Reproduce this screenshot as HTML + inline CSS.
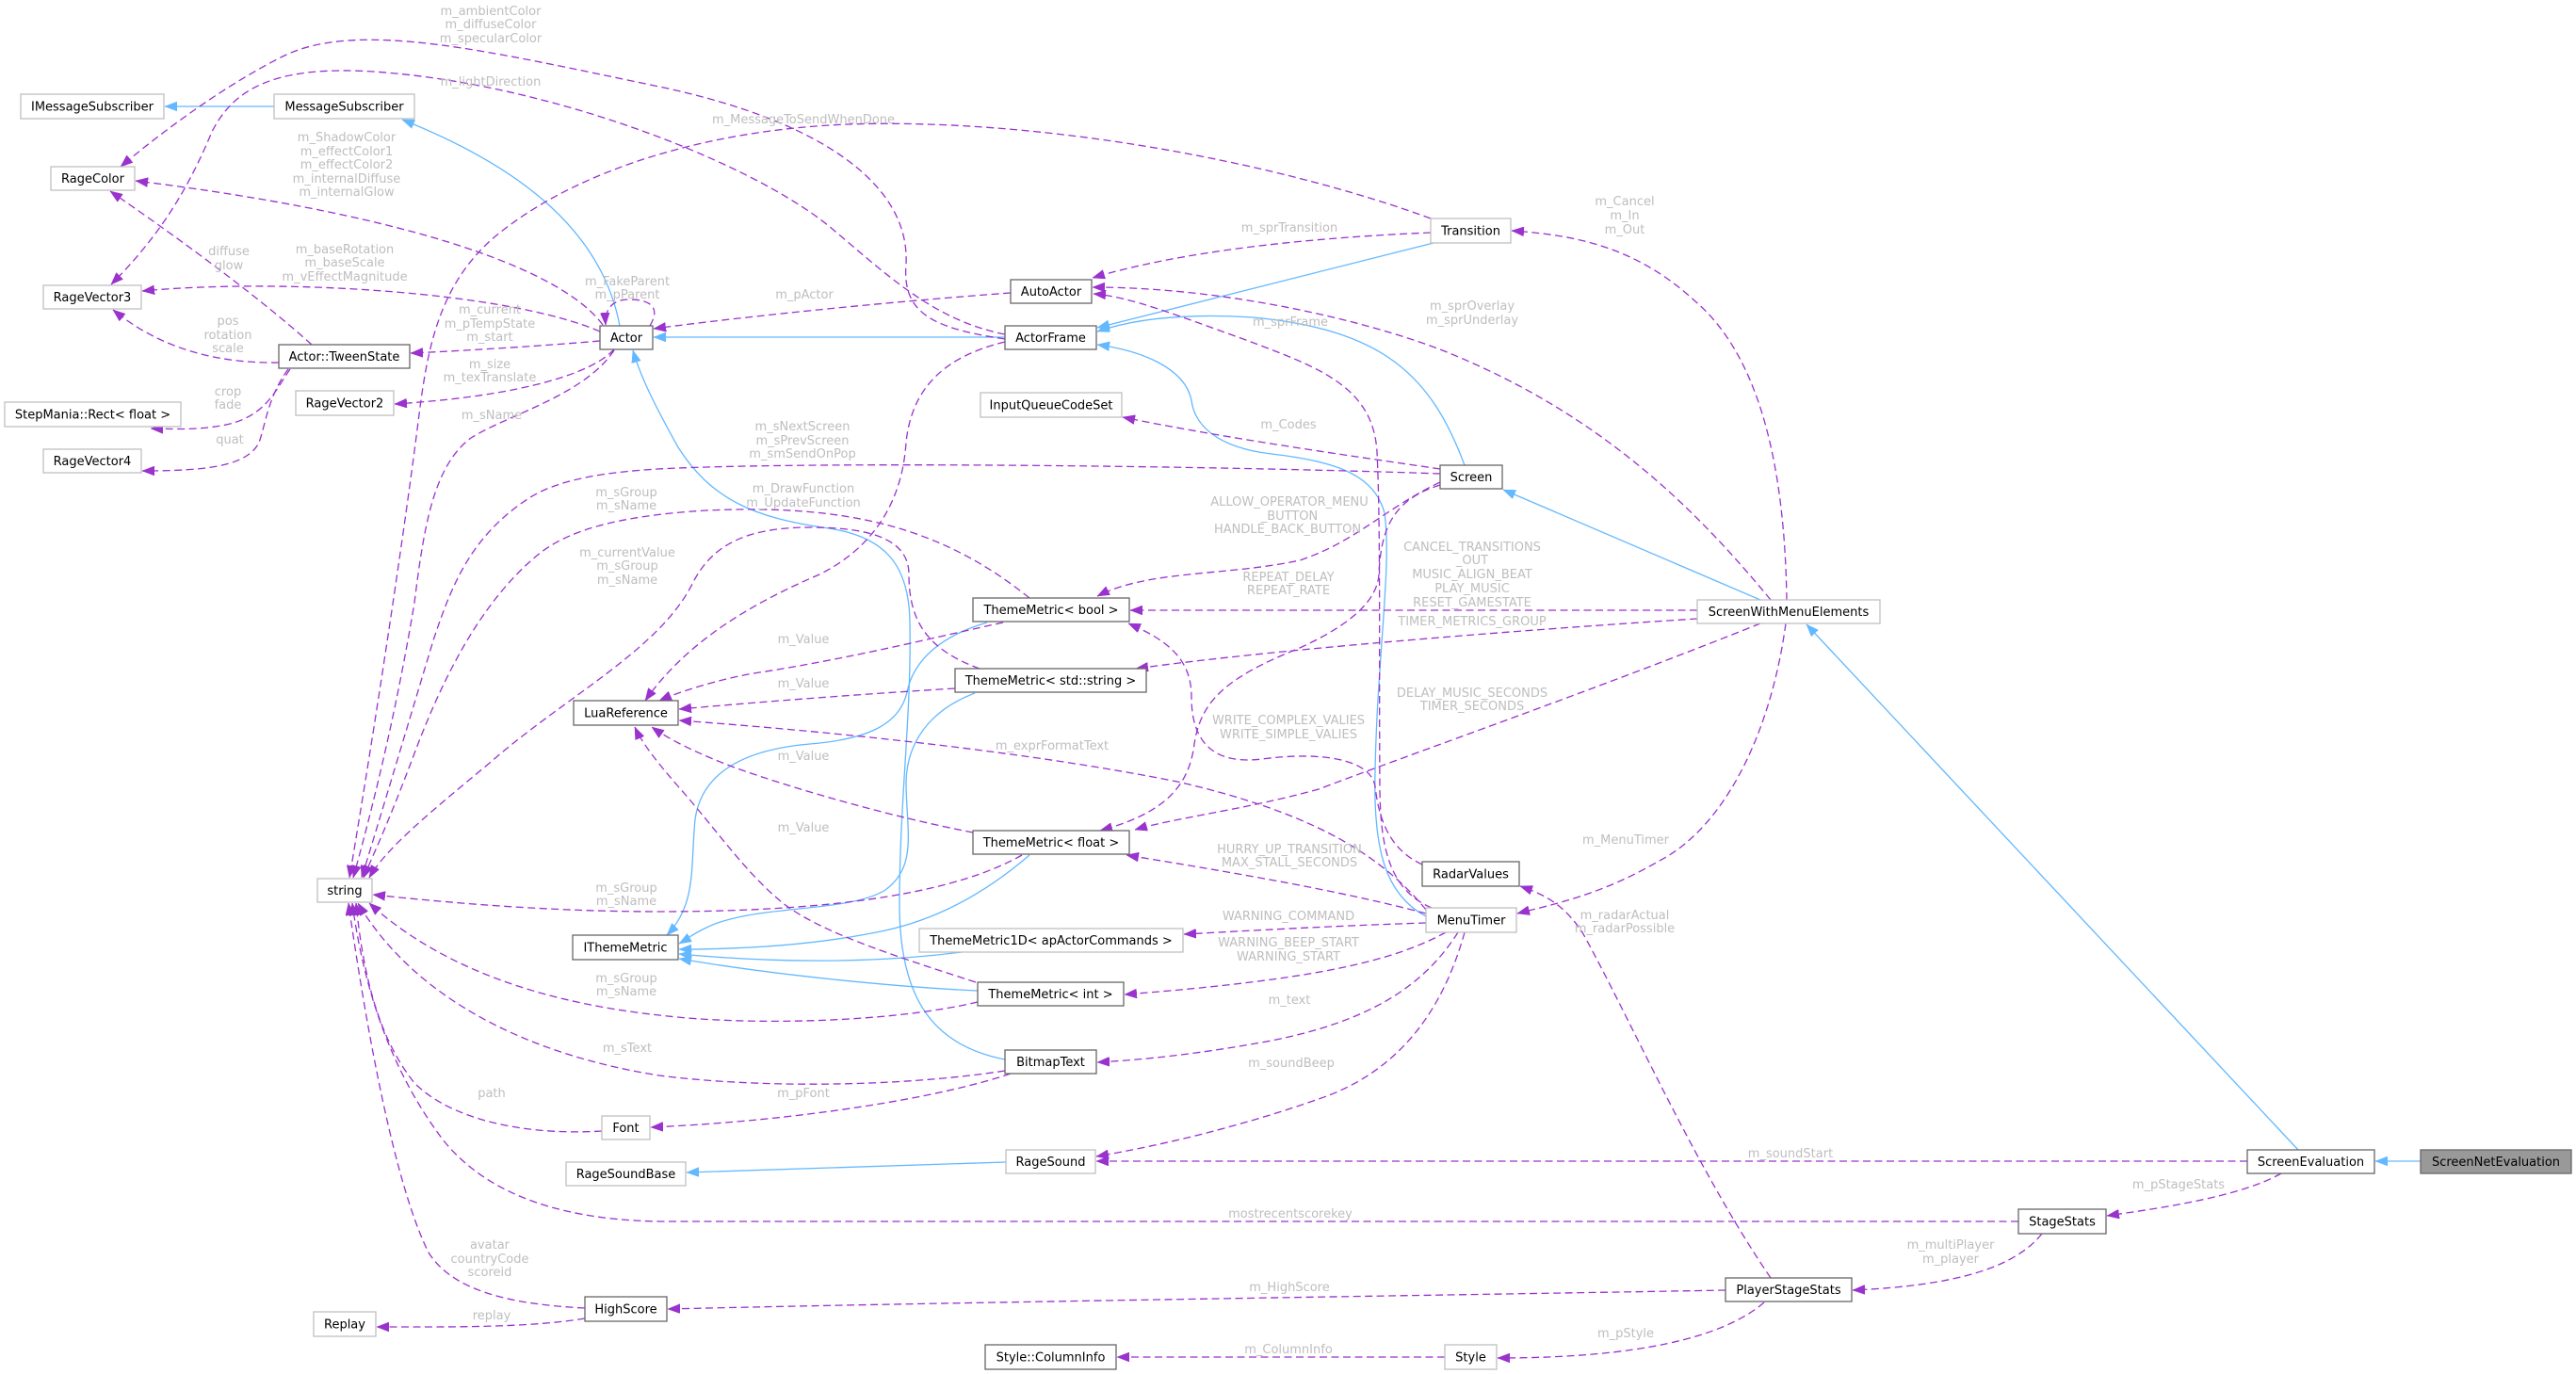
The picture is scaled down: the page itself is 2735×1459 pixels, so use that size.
<!DOCTYPE html>
<html><head><meta charset="utf-8"><style>
html,body{margin:0;padding:0;background:#fff;}
svg{display:block;}
.n{fill:#fff;stroke:#666;stroke-width:1.3;}
.l{fill:#fff;stroke:#bfbfbf;stroke-width:1.3;}
.nt{font-family:"DejaVu Sans","Liberation Sans",sans-serif;font-size:13px;fill:#000;text-anchor:middle;}
.et{font-family:"DejaVu Sans","Liberation Sans",sans-serif;font-size:13px;fill:#bebebe;text-anchor:middle;}
.b{fill:none;stroke:#63b8ff;stroke-width:1.3;marker-end:url(#ab);}
.p{fill:none;stroke:#9a32cd;stroke-width:1.3;stroke-dasharray:8,4.5;marker-end:url(#ap);}
</style></head><body>
<svg width="2735" height="1459" viewBox="0 0 2735 1459" xmlns="http://www.w3.org/2000/svg">
<defs>
<marker id="ap" viewBox="0 0 13 10" refX="13" refY="5" markerWidth="13" markerHeight="10" markerUnits="userSpaceOnUse" orient="auto"><path d="M0,0 L13,5 L0,10z" fill="#9a32cd" stroke="#9a32cd" stroke-width="0.5"/></marker>
<marker id="ab" viewBox="0 0 13 10" refX="13" refY="5" markerWidth="13" markerHeight="10" markerUnits="userSpaceOnUse" orient="auto"><path d="M0,0 L13,5 L0,10z" fill="#63b8ff" stroke="#63b8ff" stroke-width="0.5"/></marker>
</defs>
<rect width="2735" height="1459" fill="#fff"/>

<!-- blue inheritance edges -->
<path class="b" d="M291,113 L175,113"/>
<path class="b" d="M658,346 C640,250 560,180 427,127"/>
<path class="b" d="M1067,358 L694,358"/>
<path class="b" d="M1067,1125 C990,1110 955,1060 955,960 C955,850 968,760 966,660 C965,600 940,570 880,561 C800,550 755,530 720,475 C695,430 680,400 672,372"/>
<path class="b" d="M1522,258 L1165,348"/>
<path class="b" d="M1555,494 C1520,400 1470,350 1330,337 C1250,332 1200,340 1165,352"/>
<path class="b" d="M1514,973 C1470,950 1458,900 1460,820 C1462,700 1478,600 1470,545 C1460,505 1420,490 1350,482 C1290,475 1268,450 1265,425 C1258,390 1210,372 1165,366"/>
<path class="b" d="M1048,661 C1000,675 970,700 963,735 C955,770 920,785 860,790 C790,796 745,820 738,870 C733,920 740,960 708,993"/>
<path class="b" d="M1035,736 C985,755 963,790 962,830 C962,880 975,920 940,945 C900,970 800,960 750,985 C735,992 728,998 721,1002"/>
<path class="b" d="M1093,908 C1050,945 1000,975 940,988 C870,1003 790,1008 721,1008"/>
<path class="b" d="M1021,1011 C950,1020 850,1025 721,1013"/>
<path class="b" d="M1038,1052 C950,1048 820,1035 721,1018"/>
<path class="b" d="M1068,1234 L729,1245"/>
<path class="b" d="M1869,637 L1596,520"/>
<path class="b" d="M2440,1221 L1918,663"/>
<path class="b" d="M2570,1233 L2522,1233"/>

<!-- purple usage edges -->
<path class="p" d="M1067,360 C985,348 958,330 962,280 C966,200 880,130 700,92 C520,55 380,20 300,60 C230,95 160,150 128,177"/>
<path class="p" d="M1067,355 C990,340 940,290 880,240 C800,175 600,95 420,78 C300,66 250,90 225,140 C200,200 170,250 118,302"/>
<path class="p" d="M640,345 C600,290 450,230 144,192"/>
<path class="p" d="M637,352 C540,310 300,295 151,309"/>
<path class="p" d="M637,362 C580,367 500,372 436,375"/>
<path class="p" d="M652,371 C630,395 560,420 419,429"/>
<path class="p" d="M652,372 C620,420 540,440 500,465 C460,495 450,560 440,640 C420,760 395,860 375,932"/>
<path class="p" d="M690,346 C702,326 690,318 668,318 C650,318 642,328 643,345"/>
<path class="p" d="M331,366 C280,320 200,260 117,203"/>
<path class="p" d="M296,385 C230,386 170,370 120,329"/>
<path class="p" d="M308,392 C292,415 282,442 240,451 C215,456 195,456 160,455"/>
<path class="p" d="M306,392 C285,420 282,450 275,470 C262,495 220,500 151,500"/>
<path class="p" d="M1073,311 C950,320 800,335 694,349"/>
<path class="p" d="M1519,247 C1400,252 1260,265 1160,295"/>
<path class="p" d="M1519,232 C1350,170 1100,125 900,132 C750,138 620,180 540,240 C470,290 455,360 445,440 C430,560 400,760 371,932"/>
<path class="p" d="M1529,503 C1300,495 900,490 720,497 C640,500 590,510 560,530 C500,570 480,620 460,680 C430,780 400,880 384,932"/>
<path class="p" d="M1529,498 C1420,482 1300,465 1192,443"/>
<path class="p" d="M1529,512 C1470,540 1440,575 1380,595 C1300,612 1220,605 1165,633"/>
<path class="p" d="M1529,515 C1480,530 1466,560 1464,610 C1462,640 1430,665 1380,688 C1300,720 1275,745 1268,790 C1262,840 1230,865 1168,882"/>
<path class="p" d="M1510,918 C1470,900 1463,860 1460,835 C1455,805 1400,798 1340,806 C1290,812 1265,790 1265,740 C1265,700 1240,680 1198,662"/>
<path class="p" d="M1802,648 L1200,648"/>
<path class="p" d="M1802,657 C1600,670 1350,690 1206,710"/>
<path class="p" d="M1869,662 C1700,730 1500,800 1400,838 C1320,860 1250,868 1205,881"/>
<path class="p" d="M1896,662 C1880,780 1830,880 1760,915 C1700,950 1650,960 1611,970"/>
<path class="p" d="M1880,637 C1800,540 1700,440 1534,373 C1450,340 1300,305 1160,305"/>
<path class="p" d="M1897,637 C1895,500 1870,380 1800,320 C1740,265 1680,250 1605,245"/>
<path class="p" d="M1520,964 C1475,945 1466,900 1465,840 C1464,700 1466,560 1462,480 C1458,410 1400,390 1320,360 C1250,335 1200,315 1161,312"/>
<path class="p" d="M1514,966 C1460,900 1380,860 1250,830 C1100,800 900,778 721,765"/>
<path class="p" d="M1514,970 C1420,945 1300,925 1196,908"/>
<path class="p" d="M1514,980 C1420,983 1330,988 1257,992"/>
<path class="p" d="M1535,990 C1480,1020 1400,1040 1194,1056"/>
<path class="p" d="M1548,990 C1510,1050 1450,1085 1350,1105 C1280,1118 1220,1125 1165,1128"/>
<path class="p" d="M1555,990 C1530,1080 1480,1140 1400,1167 C1320,1195 1240,1215 1164,1228"/>
<path class="p" d="M1880,1357 C1800,1240 1730,1080 1680,990 C1660,960 1640,950 1614,941"/>
<path class="p" d="M2386,1233 L1164,1233"/>
<path class="p" d="M2422,1246 C2380,1270 2300,1282 2237,1291"/>
<path class="p" d="M2168,1310 C2140,1345 2080,1365 1967,1370"/>
<path class="p" d="M1832,1370 C1500,1376 1000,1383 709,1390"/>
<path class="p" d="M1873,1383 C1830,1420 1740,1442 1590,1442"/>
<path class="p" d="M1534,1441 L1186,1441"/>
<path class="p" d="M621,1400 C560,1410 480,1409 400,1409"/>
<path class="p" d="M621,1389 C540,1385 480,1370 455,1330 C420,1260 390,1100 370,959"/>
<path class="p" d="M1073,1140 C1000,1165 850,1190 691,1197"/>
<path class="p" d="M1067,1137 C950,1155 800,1155 700,1142 C560,1120 440,1060 380,959"/>
<path class="p" d="M639,1201 C560,1206 480,1190 440,1150 C400,1100 385,1030 378,959"/>
<path class="p" d="M2143,1297 L700,1297 C580,1295 510,1260 470,1210 C410,1130 385,1040 374,959"/>
<path class="p" d="M1038,1064 C950,1085 800,1090 700,1078 C580,1065 470,1030 392,959"/>
<path class="p" d="M1085,908 C1020,945 900,968 700,968 C580,968 470,958 396,950"/>
<path class="p" d="M1093,635 C1000,560 900,535 750,542 C650,548 600,565 570,590 C510,640 470,720 440,800 C410,880 395,910 386,932"/>
<path class="p" d="M1040,710 C985,690 965,660 965,610 C965,575 930,560 860,560 C790,560 755,580 735,620 C700,690 600,740 520,810 C460,860 410,900 392,932"/>
<path class="p" d="M1067,363 C1005,378 968,410 962,470 C958,530 930,580 870,610 C800,640 730,680 685,744"/>
<path class="p" d="M1065,661 C1000,675 900,700 800,715 C760,722 720,735 700,744"/>
<path class="p" d="M1014,731 C900,738 800,746 721,753"/>
<path class="p" d="M1033,884 C950,868 850,840 780,815 C740,800 710,785 692,772"/>
<path class="p" d="M1036,1043 C950,1015 870,990 830,958 C790,925 760,880 720,835 C700,812 682,790 674,772"/>

<!-- edge labels -->
<g class="et">
<text x="521" y="16">m_ambientColor</text><text x="521" y="30">m_diffuseColor</text><text x="521" y="45">m_specularColor</text>
<text x="521" y="91">m_lightDirection</text>
<text x="853" y="131">m_MessageToSendWhenDone</text>
<text x="368" y="150">m_ShadowColor</text><text x="368" y="165">m_effectColor1</text><text x="368" y="179">m_effectColor2</text><text x="368" y="194">m_internalDiffuse</text><text x="368" y="208">m_internalGlow</text>
<text x="1369" y="246">m_sprTransition</text>
<text x="1725" y="218">m_Cancel</text><text x="1725" y="233">m_In</text><text x="1725" y="248">m_Out</text>
<text x="243" y="271">diffuse</text><text x="243" y="286">glow</text>
<text x="366" y="269">m_baseRotation</text><text x="366" y="283">m_baseScale</text><text x="366" y="298">m_vEffectMagnitude</text>
<text x="666" y="303">m_FakeParent</text><text x="666" y="317">m_pParent</text>
<text x="854" y="317">m_pActor</text>
<text x="1563" y="329">m_sprOverlay</text><text x="1563" y="344">m_sprUnderlay</text>
<text x="520" y="333">m_current</text><text x="520" y="348">m_pTempState</text><text x="520" y="362">m_start</text>
<text x="1370" y="346">m_sprFrame</text>
<text x="242" y="345">pos</text><text x="242" y="360">rotation</text><text x="242" y="374">scale</text>
<text x="520" y="391">m_size</text><text x="520" y="405">m_texTranslate</text>
<text x="242" y="420">crop</text><text x="242" y="434">fade</text>
<text x="522" y="445">m_sName</text>
<text x="1368" y="455">m_Codes</text>
<text x="852" y="457">m_sNextScreen</text><text x="852" y="472">m_sPrevScreen</text><text x="852" y="486">m_smSendOnPop</text>
<text x="244" y="471">quat</text>
<text x="853" y="523">m_DrawFunction</text><text x="853" y="538">m_UpdateFunction</text>
<text x="665" y="527">m_sGroup</text><text x="665" y="541">m_sName</text>
<text x="1369" y="537">ALLOW_OPERATOR_MENU</text><text x="1369" y="552">_BUTTON</text><text x="1367" y="566">HANDLE_BACK_BUTTON</text>
<text x="1563" y="585">CANCEL_TRANSITIONS</text><text x="1563" y="599">_OUT</text><text x="1563" y="614">MUSIC_ALIGN_BEAT</text><text x="1563" y="629">PLAY_MUSIC</text><text x="1563" y="644">RESET_GAMESTATE</text>
<text x="666" y="591">m_currentValue</text><text x="666" y="605">m_sGroup</text><text x="666" y="620">m_sName</text>
<text x="1368" y="617">REPEAT_DELAY</text><text x="1368" y="631">REPEAT_RATE</text>
<text x="1563" y="664">TIMER_METRICS_GROUP</text>
<text x="853" y="683">m_Value</text>
<text x="853" y="730">m_Value</text>
<text x="1563" y="740">DELAY_MUSIC_SECONDS</text><text x="1563" y="754">TIMER_SECONDS</text>
<text x="1368" y="769">WRITE_COMPLEX_VALIES</text><text x="1368" y="784">WRITE_SIMPLE_VALIES</text>
<text x="1117" y="796">m_exprFormatText</text>
<text x="853" y="807">m_Value</text>
<text x="853" y="883">m_Value</text>
<text x="1726" y="896">m_MenuTimer</text>
<text x="1369" y="906">HURRY_UP_TRANSITION</text><text x="1369" y="920">MAX_STALL_SECONDS</text>
<text x="665" y="947">m_sGroup</text><text x="665" y="961">m_sName</text>
<text x="1725" y="976">m_radarActual</text><text x="1725" y="990">m_radarPossible</text>
<text x="1368" y="977">WARNING_COMMAND</text>
<text x="1368" y="1005">WARNING_BEEP_START</text><text x="1368" y="1020">WARNING_START</text>
<text x="665" y="1043">m_sGroup</text><text x="665" y="1057">m_sName</text>
<text x="1369" y="1066">m_text</text>
<text x="666" y="1117">m_sText</text>
<text x="1371" y="1133">m_soundBeep</text>
<text x="522" y="1165">path</text>
<text x="853" y="1165">m_pFont</text>
<text x="1901" y="1229">m_soundStart</text>
<text x="2313" y="1262">m_pStageStats</text>
<text x="1370" y="1293">mostrecentscorekey</text>
<text x="2071" y="1326">m_multiPlayer</text><text x="2071" y="1341">m_player</text>
<text x="520" y="1326">avatar</text><text x="520" y="1341">countryCode</text><text x="520" y="1355">scoreid</text>
<text x="1369" y="1371">m_HighScore</text>
<text x="522" y="1401">replay</text>
<text x="1726" y="1420">m_pStyle</text>
<text x="1368" y="1437">m_ColumnInfo</text>
</g>

<!-- nodes -->
<rect class="l" x="22" y="100" width="152" height="26"/><text class="nt" x="98" y="117.5">IMessageSubscriber</text>
<rect class="l" x="291" y="100" width="149" height="26"/><text class="nt" x="365.5" y="117.5">MessageSubscriber</text>
<rect class="l" x="54" y="177" width="89" height="25"/><text class="nt" x="98.5" y="194">RageColor</text>
<rect class="l" x="46" y="303" width="104" height="25"/><text class="nt" x="98" y="320">RageVector3</text>
<rect class="n" x="296" y="366" width="139" height="25"/><text class="nt" x="365.5" y="383">Actor::TweenState</text>
<rect class="l" x="314" y="415" width="104" height="26"/><text class="nt" x="366" y="432.5">RageVector2</text>
<rect class="l" x="5" y="427" width="187" height="26"/><text class="nt" x="98.5" y="444.5">StepMania::Rect&lt; float &gt;</text>
<rect class="l" x="46" y="477" width="104" height="25"/><text class="nt" x="98" y="494">RageVector4</text>
<rect class="n" x="637" y="346" width="56" height="25"/><text class="nt" x="665" y="363">Actor</text>
<rect class="n" x="1073" y="297" width="86" height="25"/><text class="nt" x="1116" y="314">AutoActor</text>
<rect class="n" x="1067" y="346" width="97" height="25"/><text class="nt" x="1115.5" y="363">ActorFrame</text>
<rect class="l" x="1041" y="417" width="150" height="26"/><text class="nt" x="1116" y="434.5">InputQueueCodeSet</text>
<rect class="l" x="1519" y="232" width="85" height="26"/><text class="nt" x="1561.5" y="249.5">Transition</text>
<rect class="n" x="1529" y="494" width="66" height="25"/><text class="nt" x="1562" y="511">Screen</text>
<rect class="n" x="1033" y="635" width="166" height="25"/><text class="nt" x="1116" y="652">ThemeMetric&lt; bool &gt;</text>
<rect class="n" x="1014" y="710" width="203" height="25"/><text class="nt" x="1115.5" y="727">ThemeMetric&lt; std::string &gt;</text>
<rect class="n" x="609" y="744" width="111" height="26"/><text class="nt" x="664.5" y="761.5">LuaReference</text>
<rect class="n" x="1033" y="882" width="166" height="25"/><text class="nt" x="1116" y="899">ThemeMetric&lt; float &gt;</text>
<rect class="l" x="337" y="933" width="58" height="25"/><text class="nt" x="366" y="950">string</text>
<rect class="l" x="1802" y="637" width="194" height="25"/><text class="nt" x="1899" y="654">ScreenWithMenuElements</text>
<rect class="n" x="1510" y="915" width="103" height="26"/><text class="nt" x="1561.5" y="932.5">RadarValues</text>
<rect class="l" x="1514" y="964" width="96" height="26"/><text class="nt" x="1562" y="981.5">MenuTimer</text>
<rect class="n" x="608" y="993" width="112" height="26"/><text class="nt" x="664" y="1010.5">IThemeMetric</text>
<rect class="l" x="976" y="986" width="280" height="25"/><text class="nt" x="1116" y="1003">ThemeMetric1D&lt; apActorCommands &gt;</text>
<rect class="n" x="1038" y="1043" width="155" height="25"/><text class="nt" x="1115.5" y="1060">ThemeMetric&lt; int &gt;</text>
<rect class="n" x="1067" y="1115" width="97" height="25"/><text class="nt" x="1115.5" y="1132">BitmapText</text>
<rect class="l" x="639" y="1185" width="51" height="25"/><text class="nt" x="664.5" y="1202">Font</text>
<rect class="l" x="1068" y="1221" width="95" height="25"/><text class="nt" x="1115.5" y="1238">RageSound</text>
<rect class="l" x="601" y="1234" width="127" height="25"/><text class="nt" x="664.5" y="1251">RageSoundBase</text>
<rect class="n" x="621" y="1377" width="87" height="26"/><text class="nt" x="664.5" y="1394.5">HighScore</text>
<rect class="l" x="333" y="1393" width="66" height="26"/><text class="nt" x="366" y="1410.5">Replay</text>
<rect class="n" x="1046" y="1428" width="139" height="26"/><text class="nt" x="1115.5" y="1445.5">Style::ColumnInfo</text>
<rect class="l" x="1534" y="1428" width="55" height="26"/><text class="nt" x="1561.5" y="1445.5">Style</text>
<rect class="n" x="1832" y="1357" width="134" height="25"/><text class="nt" x="1899" y="1374">PlayerStageStats</text>
<rect class="n" x="2143" y="1284" width="93" height="26"/><text class="nt" x="2189.5" y="1301.5">StageStats</text>
<rect class="n" x="2386" y="1221" width="135" height="25"/><text class="nt" x="2453.5" y="1238">ScreenEvaluation</text>
<rect x="2570" y="1221" width="160" height="25" fill="#999999" stroke="#666" stroke-width="1.3"/><text class="nt" x="2650" y="1238">ScreenNetEvaluation</text>
</svg>
</body></html>
